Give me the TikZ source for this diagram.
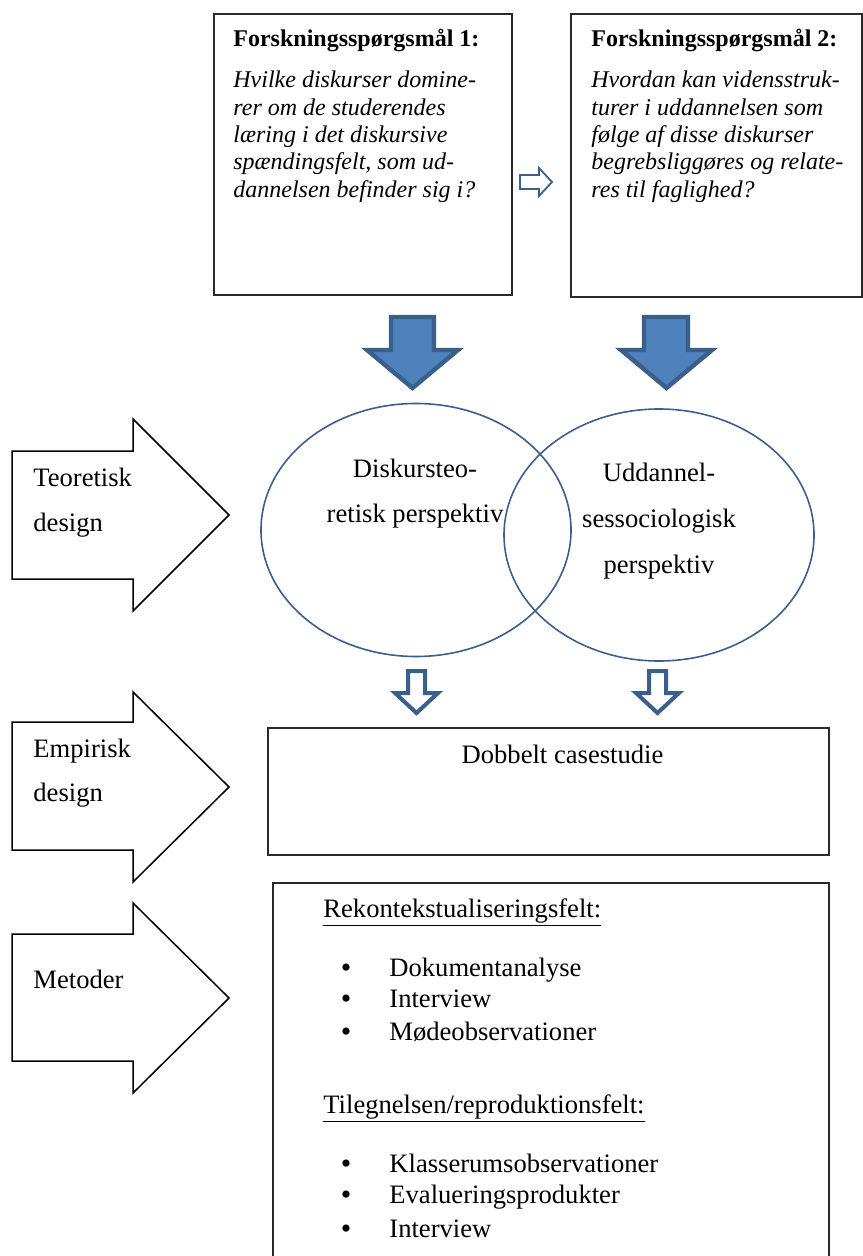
\documentclass[tikz,border=0pt]{standalone}
\usepackage{fontspec}
\setmainfont{Liberation Serif}
\usetikzlibrary{shapes.geometric}
\definecolor{arrowfill}{HTML}{4F81BD}
\definecolor{arrowline}{HTML}{3A5F8B}
\definecolor{ellline}{HTML}{3B5E8E}
\definecolor{boxline}{HTML}{2A2A2A}
\begin{document}
\begin{tikzpicture}[x=0.5pt,y=-0.5pt,
  boxstyle/.style={draw=boxline, line width=0.8pt, inner sep=0pt, anchor=north west},
  qtxt/.style={inner sep=0pt, anchor=base west, font=\fontsize{12}{14}\selectfont},
  txt/.style={inner sep=0pt, anchor=base west, font=\fontsize{13.3}{15}\selectfont},
  ctxt/.style={inner sep=0pt, anchor=base, font=\fontsize{13.3}{15}\selectfont},
  bul/.style={inner sep=0pt, anchor=base, font=\fontsize{15}{15}\selectfont},
  ellstyle/.style={draw=ellline, line width=0.8pt, ellipse, inner sep=0pt},
  bluearrow/.style={fill=arrowfill, draw=arrowline, line width=2.2pt, line join=miter},
  hollowarrow/.style={fill=white, draw=arrowline, line width=2pt, line join=miter},
  thinarrow/.style={fill=white, draw=arrowline, line width=0.9pt, line join=miter},
  blockarrow/.style={fill=white, draw=black, line width=0.75pt, line join=miter}]
\useasboundingbox (0,0) rectangle (862,1256);

% research question boxes
\node[boxstyle, minimum width=149pt, minimum height=140.5pt] (q1) at (213,13) {};
\node[boxstyle, minimum width=145.5pt, minimum height=141.5pt] (q2) at (570,13) {};

\node[qtxt] (q1t) at (233,47) {\textbf{Forskningsspørgsmål 1:}};
\node[qtxt] (q1a) at (233,88) {\itshape Hvilke diskurser domine-};
\node[qtxt] (q1b) at (233,115.3) {\itshape rer om de studerendes};
\node[qtxt] (q1c) at (233,142.6) {\itshape læring i det diskursive};
\node[qtxt] (q1d) at (233,169.9) {\itshape spændingsfelt, som ud-};
\node[qtxt] (q1e) at (233,197.2) {\itshape dannelsen befinder sig i?};

\node[qtxt] (q2t) at (591,47) {\textbf{Forskningsspørgsmål 2:}};
\node[qtxt] (q2a) at (591,88) {\itshape Hvordan kan vidensstruk-};
\node[qtxt] (q2b) at (591,115.3) {\itshape turer i uddannelsen som};
\node[qtxt] (q2c) at (591,142.6) {\itshape følge af disse diskurser};
\node[qtxt] (q2d) at (591,169.9) {\itshape begrebsliggøres og relate-};
\node[qtxt] (q2e) at (591,197.2) {\itshape res til faglighed?};

% small right arrow between boxes
\draw[thinarrow] (520,175) -- (539,175) -- (539,168) -- (552,182) -- (539,196) -- (539,189) -- (520,189) -- cycle;

% big blue arrows
\draw[bluearrow] (391,317) -- (434,317) -- (434,350) -- (458,350) -- (412.5,388) -- (367,350) -- (391,350) -- cycle;
\draw[bluearrow] (644,317) -- (688,317) -- (688,350) -- (712,350) -- (666.5,388) -- (621,350) -- (644,350) -- cycle;

% ellipses
\node[ellstyle, minimum width=155pt, minimum height=126.5pt] (e1) at (416,530) {};
\node[ellstyle, minimum width=155pt, minimum height=126pt] (e2) at (659,535) {};

\node[ctxt] (e1a) at (415,477) {Diskursteo-};
\node[ctxt] (e1b) at (415,522) {retisk perspektiv};
\node[ctxt] (e2a) at (659,481) {Uddannel-};
\node[ctxt] (e2b) at (659,527) {sessociologisk};
\node[ctxt] (e2c) at (659,573) {perspektiv};

% small hollow down arrows
\draw[hollowarrow] (408,671) -- (425,671) -- (425,693) -- (438,693) -- (416.5,713) -- (395,693) -- (408,693) -- cycle;
\draw[hollowarrow] (649,671) -- (666,671) -- (666,693) -- (679,693) -- (657.5,713) -- (636,693) -- (649,693) -- cycle;

% left block arrows
\draw[blockarrow] (12,451) -- (133,451) -- (133,419) -- (229,515) -- (133,611) -- (133,579) -- (12,579) -- cycle;
\draw[blockarrow] (12,722) -- (133,722) -- (133,692) -- (229,787) -- (133,882) -- (133,850) -- (12,850) -- cycle;
\draw[blockarrow] (12,934) -- (133,934) -- (133,903) -- (229,998) -- (133,1093) -- (133,1061) -- (12,1061) -- cycle;

\node[txt] (l1a) at (33,486) {Teoretisk};
\node[txt] (l1b) at (33,531) {design};
\node[txt] (l2a) at (33,757) {Empirisk};
\node[txt] (l2b) at (33,801) {design};
\node[txt] (l3a) at (33,988) {Metoder};

% empirical design box
\node[boxstyle, minimum width=280.5pt, minimum height=63.5pt] (cs) at (267,727) {};
\node[ctxt] (cst) at (562.5,763) {Dobbelt casestudie};

% methods box
\node[boxstyle, minimum width=278pt, minimum height=192pt] (mb) at (272,882) {};
\node[txt] (h1) at (323,917) {\underline{Rekontekstualiseringsfelt:}};
\node[bul] (b1) at (346,977) {•};
\node[txt] (i1) at (389,976) {Dokumentanalyse};
\node[bul] (b2) at (346,1008) {•};
\node[txt] (i2) at (389,1007) {Interview};
\node[bul] (b3) at (346,1041) {•};
\node[txt] (i3) at (389,1040) {Mødeobservationer};
\node[txt] (h2) at (323,1113) {\underline{Tilegnelsen/reproduktionsfelt:}};
\node[bul] (b4) at (346,1173) {•};
\node[txt] (i4) at (389,1172) {Klasserumsobservationer};
\node[bul] (b5) at (346,1204) {•};
\node[txt] (i5) at (389,1203) {Evalueringsprodukter};
\node[bul] (b6) at (346,1238) {•};
\node[txt] (i6) at (389,1237) {Interview};
\end{tikzpicture}
\end{document}
